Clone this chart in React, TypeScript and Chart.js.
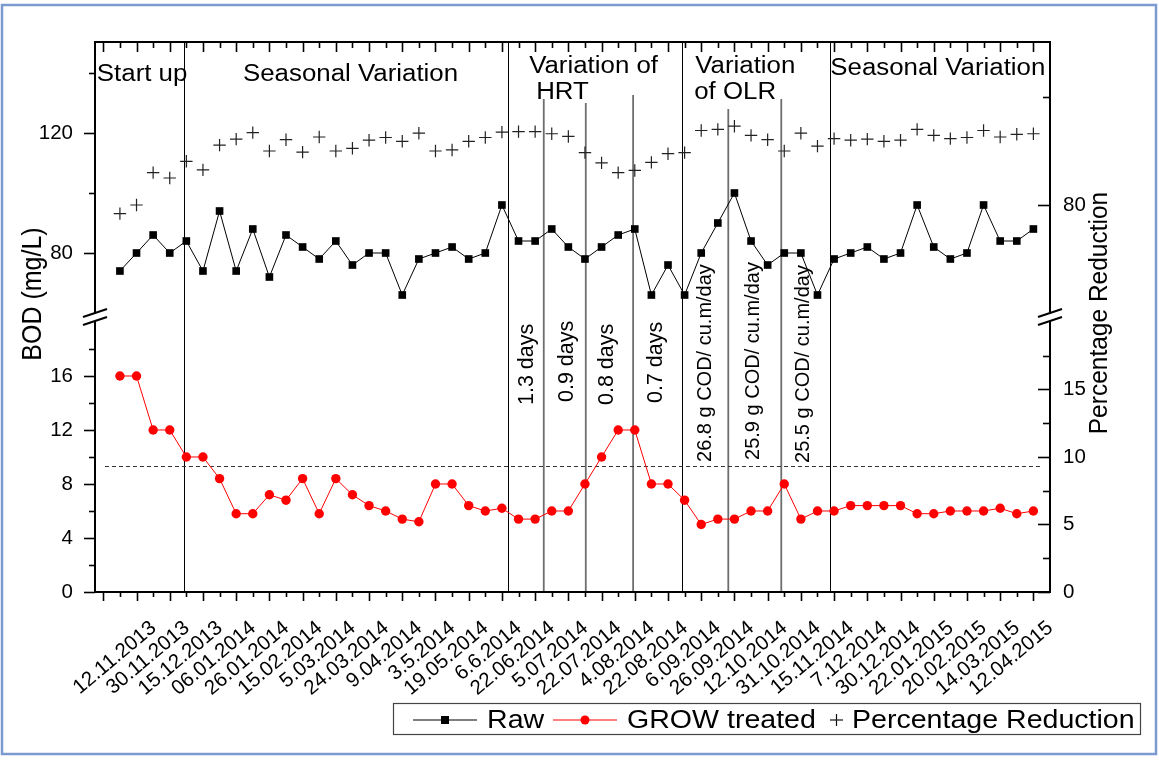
import React, { useEffect, useRef } from 'react';
import { Chart, registerables } from 'chart.js';

Chart.register(...registerables);

// ---------- data ----------
const dateLabels = [
  '12.11.2013', '30.11.2013', '15.12.2013', '06.01.2014', '26.01.2014', '15.02.2014', '5.03.2014',
  '24.03.2014', '9.04.2014', '3.5.2014', '19.05.2014', '6.6.2014', '22.06.2014', '5.07.2014',
  '22.07.2014', '4.08.2014', '22.08.2014', '6.09.2014', '26.09.2014', '12.10.2014', '31.10.2014',
  '15.11.2014', '7.12.2014', '30.12.2014', '22.01.2015', '20.02.2015', '14.03.2015', '12.04.2015',
];

const rawBOD = [
  74, 80, 86, 80, 84, 74, 94, 74, 88, 72,
  86, 82, 78, 84, 76, 80, 80, 66, 78, 80,
  82, 78, 80, 96, 84, 84, 88, 82, 78, 82,
  86, 88, 66, 76, 66, 80, 90, 100, 84, 76,
  80, 80, 66, 78, 80, 82, 78, 80, 96, 82,
  78, 80, 96, 84, 84, 88,
];

const treatedBOD = [
  16, 16, 12, 12, 10, 10, 8.4, 5.8, 5.8, 7.2,
  6.8, 8.4, 5.8, 8.4, 7.2, 6.4, 6, 5.4, 5.2, 8,
  8, 6.4, 6, 6.2, 5.4, 5.4, 6, 6, 8, 10,
  12, 12, 8, 8, 6.8, 5, 5.4, 5.4, 6, 6,
  8, 5.4, 6, 6, 6.4, 6.4, 6.4, 6.4, 5.8, 5.8,
  6, 6, 6, 6.2, 5.8, 6,
];

const pctReduction = [
  78.4, 80.0, 86.0, 85.0, 88.1, 86.5, 91.1, 92.2, 93.4, 90.0,
  92.1, 89.8, 92.6, 90.0, 90.5, 92.0, 92.5, 91.8, 93.3, 90.0,
  90.2, 91.8, 92.5, 93.5, 93.6, 93.6, 93.2, 92.7, 89.7, 87.8,
  86.0, 86.4, 87.9, 89.5, 89.7, 93.8, 94.0, 94.6, 92.9, 92.1,
  90.0, 93.3, 90.9, 92.3, 92.0, 92.2, 91.8, 92.0, 94.0, 92.9,
  92.3, 92.5, 93.8, 92.6, 93.1, 93.2,
];

// axis ticks (major labelled, minor unlabelled)
const leftLowMajor = [0, 4, 8, 12, 16];
const leftLowMinor = [2, 6, 10, 14, 18];
const leftHighMajor = [80, 120];
const leftHighMinor = [100, 140];
const rightLowMajor = [0, 5, 10, 15];
const rightLowMinor = [2.5, 7.5, 12.5, 17.5];
const rightHighMajor = [80];
const rightHighMinor = [100];

// phase separators (x in sample index)
const phaseDividers = [4.86, 24.36, 34.84, 43.73];
const subDividers = [
  { x: 26.52, top: 131.3 },
  { x: 29.05, top: 130.0 },
  { x: 31.9, top: 132.7 },
  { x: 37.63, top: 128.0 },
  { x: 40.82, top: 131.3 },
];
const limitLine = 9.3;

const phaseTexts = [
  { t: 'Start up', x: -0.39, y: 137.3 },
  { t: 'Seasonal Variation', x: 8.41, y: 137.3 },
  { t: 'Variation of', x: 25.64, y: 140 },
  { t: 'HRT', x: 26.06, y: 131.3 },
  { t: 'Variation', x: 35.64, y: 140 },
  { t: 'of OLR', x: 35.58, y: 131.3 },
  { t: 'Seasonal Variation', x: 43.77, y: 139.3 },
];

const conditionTexts = [
  { t: '1.3 days', x: 25.87, y: 13.85, size: 21.5 },
  { t: '0.9 days', x: 28.29, y: 14.07, size: 21.5 },
  { t: '0.8 days', x: 30.7, y: 13.85, size: 21.5 },
  { t: '0.7 days', x: 33.65, y: 14.0, size: 21.5 },
  { t: '26.8 g COD/ cu.m/day', x: 36.6, y: 9.63, size: 20 },
  { t: '25.9 g COD/ cu.m/day', x: 39.49, y: 9.78, size: 20 },
  { t: '25.5 g COD/ cu.m/day', x: 42.5, y: 9.56, size: 20 },
];

const FAMILY = '"Liberation Sans", Arial, Helvetica, sans-serif';

function drawText(
  ctx: CanvasRenderingContext2D,
  s: string,
  x: number,
  y: number,
  size: number,
  opts: { sx?: number; rot?: number; align?: CanvasTextAlign } = {}
) {
  ctx.save();
  ctx.translate(x, y);
  ctx.scale(opts.sx ?? 1, 1);
  if (opts.rot) ctx.rotate(opts.rot);
  ctx.font = `${size}px ${FAMILY}`;
  ctx.textAlign = opts.align ?? 'left';
  ctx.textBaseline = 'alphabetic';
  ctx.fillStyle = '#000';
  ctx.fillText(s, 0, 0);
  ctx.restore();
}

function line(ctx: CanvasRenderingContext2D, x1: number, y1: number, x2: number, y2: number) {
  ctx.beginPath();
  ctx.moveTo(x1, y1);
  ctx.lineTo(x2, y2);
  ctx.stroke();
}

const overlay = {
  id: 'overlay',
  beforeDatasetsDraw(chart: any) {
    const ctx: CanvasRenderingContext2D = chart.ctx;
    const { top, bottom } = chart.chartArea;
    const xs = chart.scales.x;
    const yHi = chart.scales.yHi;
    const yLo = chart.scales.yLo;
    ctx.save();
    ctx.strokeStyle = '#000';
    ctx.lineWidth = 1;
    for (const v of phaseDividers) {
      const px = Math.round(xs.getPixelForValue(v)) + 0.5;
      line(ctx, px, top, px, bottom);
    }
    ctx.strokeStyle = '#6e6e6e';
    ctx.lineWidth = 1.8;
    for (const d of subDividers) {
      const px = xs.getPixelForValue(d.x);
      line(ctx, px, yHi.getPixelForValue(d.top), px, bottom);
    }
    ctx.strokeStyle = '#333';
    ctx.lineWidth = 1;
    ctx.setLineDash([4, 3]);
    const ly = Math.round(yLo.getPixelForValue(limitLine)) + 0.5;
    line(ctx, xs.getPixelForValue(0.1), ly, xs.getPixelForValue(56.4), ly);
    ctx.setLineDash([]);
    for (const p of phaseTexts) {
      drawText(ctx, p.t, xs.getPixelForValue(p.x), yHi.getPixelForValue(p.y), 23.5, { sx: 1.1 });
    }
    for (const c of conditionTexts) {
      drawText(ctx, c.t, xs.getPixelForValue(c.x), yLo.getPixelForValue(c.y), c.size, { rot: -Math.PI / 2 });
    }
    ctx.restore();
  },
  afterDraw(chart: any) {
    const ctx: CanvasRenderingContext2D = chart.ctx;
    const { left, right, top, bottom } = chart.chartArea;
    const xs = chart.scales.x;
    const s = chart.scales;
    ctx.save();
    // frame
    ctx.strokeStyle = '#000';
    ctx.lineWidth = 2;
    ctx.strokeRect(left, top, right - left, bottom - top);
    // x ticks
    ctx.lineWidth = 1.6;
    for (let i = 0; i <= 56; i++) {
      const px = Math.round(xs.getPixelForValue(i)) + 0.5;
      const major = i % 2 === 0;
      line(ctx, px, bottom, px, bottom + (major ? 9 : 5));
      line(ctx, px, top, px, top + (major ? 10 : 6));
    }
    // y ticks: left outward, right inward
    const yTicks = (scale: any, vals: number[], x: number, len: number) => {
      for (const v of vals) {
        const py = Math.round(scale.getPixelForValue(v)) + 0.5;
        line(ctx, x, py, x + len, py);
      }
    };
    yTicks(s.yLo, leftLowMajor, left, -11);
    yTicks(s.yLo, leftLowMinor, left, -6);
    yTicks(s.yHi, leftHighMajor, left, -11);
    yTicks(s.yHi, leftHighMinor, left, -6);
    yTicks(s.y2Lo, rightLowMajor, right, -12);
    yTicks(s.y2Lo, rightLowMinor, right, -7);
    yTicks(s.y2Hi, rightHighMajor, right, -12);
    yTicks(s.y2Hi, rightHighMinor, right, -7);
    // axis breaks
    const split = s.yLo.top;
    const brk = (cx: number) => {
      const cy = split - 4;
      ctx.fillStyle = '#fff';
      ctx.fillRect(cx - 2, cy + 1, 4, 7);
      ctx.strokeStyle = '#000';
      ctx.lineWidth = 2;
      line(ctx, cx - 12, cy + 4, cx + 12, cy - 4);
      line(ctx, cx - 12, cy + 12, cx + 12, cy + 4);
    };
    brk(left);
    brk(right);
    // axis titles
    drawText(ctx, 'BOD (mg/L)', 41, 294, 25, { sx: 1.08, rot: -Math.PI / 2, align: 'center' });
    drawText(ctx, 'Percentage Reduction', 1107, 313, 24.5, { sx: 1.03, rot: -Math.PI / 2, align: 'center' });
    // legend
    ctx.strokeStyle = '#444';
    ctx.lineWidth = 1.2;
    ctx.strokeRect(393.5, 703.5, 747, 31);
    const ly = 720;
    ctx.strokeStyle = '#000';
    ctx.lineWidth = 1.2;
    line(ctx, 413, ly, 477, ly);
    ctx.fillStyle = '#000';
    ctx.fillRect(441, ly - 4, 8, 8);
    drawText(ctx, 'Raw', 487, 728, 25.5, { sx: 1.12 });
    ctx.strokeStyle = '#ff0000';
    line(ctx, 553, ly, 617, ly);
    ctx.fillStyle = '#ff0000';
    ctx.beginPath();
    ctx.arc(585, ly, 4.5, 0, Math.PI * 2);
    ctx.fill();
    drawText(ctx, 'GROW treated', 627, 728, 25.5, { sx: 1.12 });
    ctx.strokeStyle = '#111';
    ctx.lineWidth = 1.2;
    line(ctx, 830, ly, 843, ly);
    line(ctx, 836.5, ly - 6, 836.5, ly + 6);
    drawText(ctx, 'Percentage Reduction', 852, 728, 25.5, { sx: 1.12 });
    // outer border
    ctx.strokeStyle = '#7b9bd0';
    ctx.lineWidth = 2.5;
    ctx.strokeRect(2, 5, 1154, 749);
    ctx.restore();
  },
};

const tickFont = { family: FAMILY, size: 20.5 };

function yScale(position: 'left' | 'right', weight: number, min: number, max: number, ticks: number[], pad: number, w: number) {
  return {
    type: 'linear',
    position,
    stack: position,
    stackWeight: weight,
    min,
    max,
    afterBuildTicks: (sc: any) => {
      sc.ticks = ticks.map((v) => ({ value: v }));
    },
    afterFit: (sc: any) => {
      sc.width = w;
    },
    grid: { display: false, drawTicks: false },
    border: { display: false },
    ticks: { autoSkip: false, padding: pad, font: tickFont, color: '#000', callback: (v: any) => String(v) },
  };
}

export default function App() {
  const ref = useRef<HTMLCanvasElement>(null);
  useEffect(() => {
    const canvas = ref.current!;
    const pts = (arr: number[]) => arr.map((v, i) => ({ x: i + 1, y: v }));
    const chart = new Chart(canvas, {
      type: 'line',
      data: {
        datasets: [
          {
            label: 'Raw',
            data: pts(rawBOD),
            yAxisID: 'yHi',
            borderColor: '#000',
            borderWidth: 1,
            pointStyle: 'rect',
            pointRadius: 5.4,
            pointBackgroundColor: '#000',
            pointBorderColor: '#000',
            pointBorderWidth: 0,
          },
          {
            label: 'GROW treated',
            data: pts(treatedBOD),
            yAxisID: 'yLo',
            borderColor: '#ff0000',
            borderWidth: 1,
            pointStyle: 'circle',
            pointRadius: 4.7,
            pointBackgroundColor: '#ff0000',
            pointBorderColor: '#ff0000',
            pointBorderWidth: 0,
          },
          {
            label: 'Percentage Reduction',
            data: pts(pctReduction),
            yAxisID: 'y2Hi',
            showLine: false,
            borderColor: '#222',
            pointStyle: 'cross',
            pointRadius: 6.2,
            pointBorderColor: '#222',
            pointBorderWidth: 1.2,
          },
        ],
      },
      options: {
        responsive: false,
        animation: false,
        devicePixelRatio: 1,
        layout: { padding: { top: 42, left: 0, right: 0, bottom: 0 } },
        plugins: { legend: { display: false }, tooltip: { enabled: false } },
        scales: {
          x: {
            type: 'linear',
            position: 'bottom',
            min: -0.5,
            max: 57,
            afterBuildTicks: (sc: any) => {
              sc.ticks = dateLabels.map((_, i) => ({ value: 2 * (i + 1) }));
            },
            afterFit: (sc: any) => {
              sc.height = 169;
            },
            grid: { display: false, drawTicks: false },
            border: { display: false },
            ticks: {
              autoSkip: false,
              minRotation: 40,
              maxRotation: 40,
              padding: 24,
              labelOffset: 17,
              font: { family: FAMILY, size: 20.5 },
              color: '#000',
              callback: (v: any) => dateLabels[v / 2 - 1] ?? '',
            },
          },
          yLo: yScale('left', 1, 0, 20.37, leftLowMajor, 22, 95),
          yHi: yScale('left', 1, 58.67, 150.33, leftHighMajor, 22, 95),
          y2Hi: yScale('right', 1, 59.26, 110.19, rightHighMajor, 13, 109),
          y2Lo: yScale('right', 1, 0, 20.37, rightLowMajor, 13, 109),
        } as any,
      },
      plugins: [overlay],
    } as any);
    return () => chart.destroy();
  }, []);
  return (
    <div style={{ position: 'absolute', left: 0, top: 0, background: '#fff' }}>
      <canvas ref={ref} width={1159} height={761} style={{ width: '1159px', height: '761px', display: 'block' }} />
    </div>
  );
}
